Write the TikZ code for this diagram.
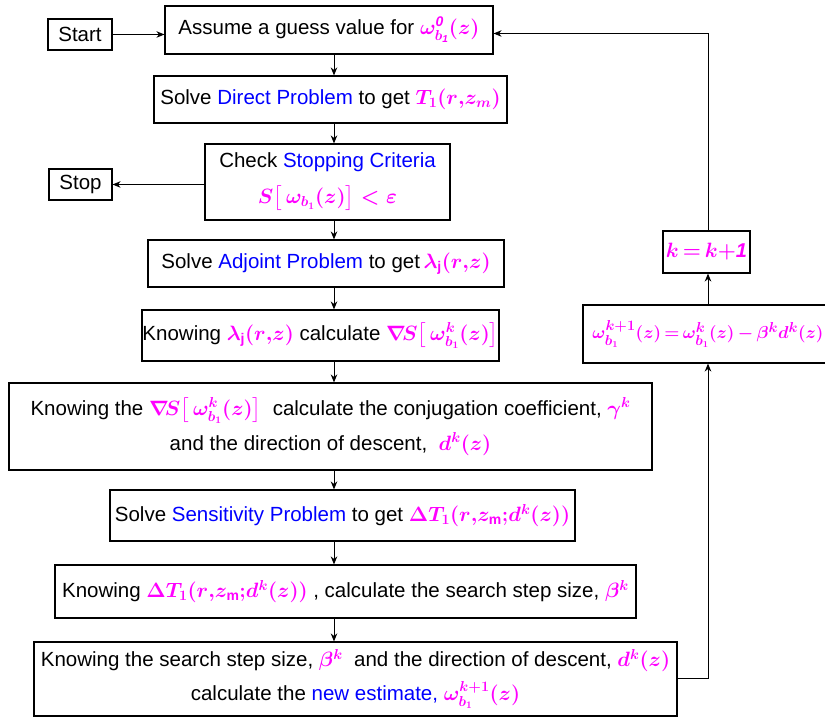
\documentclass[tikz,border=0pt]{standalone}
\usepackage{fontspec}
\setmainfont{Liberation Sans}
\usepackage{amsmath}
\usetikzlibrary{arrows.meta}
\definecolor{mag}{RGB}{255,0,255}
\definecolor{blu}{RGB}{0,0,255}
\newcommand{\mm}[1]{\textcolor{mag}{\fontsize{20}{24}\selectfont\boldmath$#1$}}
\newcommand{\mms}[1]{\textcolor{mag}{\fontsize{19}{24}\selectfont\boldmath$#1$}}
\newcommand{\bl}[1]{\textcolor{blu}{#1}}
\begin{document}
\begin{tikzpicture}[x=1pt,y=1pt,
  box/.style={draw, line width=1.1pt, inner sep=0pt, align=center, font=\fontsize{20.5}{24}\selectfont},
  arr/.style={-{Stealth[length=8pt,width=6.5pt,inset=2.5pt]}, line width=1pt}]
\useasboundingbox (0,0) rectangle (825,719);
\node[box, minimum width=64, minimum height=31] (start) at (80,684.5) {Start};
\node[box, minimum width=328, minimum height=48] (assume) at (329,689) {Assume a guess value for \mm{\omega^{\mathit{0}}_{b_{\mathit{1}}}(z)}};
\node[box, minimum width=353, minimum height=47] (direct) at (330.5,619.5) {Solve \bl{Direct Problem} to get \mm{T_1(r{,}z_m)}};
\node[box, minimum width=245, minimum height=76, font=\fontsize{20.5}{36}\selectfont] (check) at (327.5,537) {Check \bl{Stopping Criteria}\\\mm{S\big[\,\omega_{b_1}(z)\big] < \varepsilon}};
\node[box, minimum width=63, minimum height=31] (stop) at (80.5,534.5) {Stop};
\node[box, minimum width=356, minimum height=47] (adjoint) at (326,455.5) {Solve \bl{Adjoint Problem} to get\,\mm{\lambda_{\mathrm{j}}(r{,}z)}};
\node[box, minimum width=357, minimum height=51] (knowlam) at (320.5,383.5) {Knowing \mm{\lambda_{\mathrm{j}}(r{,}z)} calculate \mm{\nabla\! S\big[\,\omega^k_{b_1}(z)\big]}};
\node[box, minimum width=643, minimum height=87, font=\fontsize{20.5}{35}\selectfont] (conj) at (330.5,292.5) {Knowing the \mm{\nabla\! S\big[\,\omega^k_{b_1}(z)\big]}\ \ calculate the conjugation coefficient, \mm{\gamma^k}\\and the direction of descent, \ \mm{d^k(z)}};
\node[box, minimum width=465, minimum height=51] (sens) at (342.5,203.5) {Solve \bl{Sensitivity Problem} to get \mm{\Delta T_1(r{,}z_{\mathrm{m}}{;}d^k(z))}};
\node[box, minimum width=581, minimum height=53] (stepsize) at (345.5,127.5) {Knowing \mm{\Delta T_1(r{,}z_{\mathrm{m}}{;}d^k(z))} , calculate the search step size, \mm{\beta^k}};
\node[box, minimum width=643, minimum height=74, font=\fontsize{20.5}{34}\selectfont] (newest) at (355.5,40) {Knowing the search step size, \mm{\beta^k}\ \ and the direction of descent, \mm{d^k(z)}\\calculate the \bl{new estimate,} \mm{\omega^{k+1}_{b_1}(z)}};
\node[box, minimum width=244, minimum height=58] (omega) at (705,385) {\hspace{6pt}\mms{\omega^{k+1}_{b_1}(z)\,{=}\,\omega^k_{b_1}(z)\,{-}\,\beta^k d^k(z)}};
\node[box, minimum width=87, minimum height=42] (kbox) at (706.5,467) {\mm{k\,{=}\,k{+}\mathit{1}}};
\coordinate (col) at (334,0);
\coordinate (rc) at (708,0);
\coordinate (tr) at (708,685.5);
\draw[arr] (start.east) -- (start.east -| assume.west);
\draw[arr] (assume.south -| col) -- (direct.north -| col);
\draw[arr] (direct.south -| col) -- (check.north -| col);
\draw[arr] (check.south -| col) -- (adjoint.north -| col);
\draw[arr] (adjoint.south -| col) -- (knowlam.north -| col);
\draw[arr] (knowlam.south -| col) -- (conj.north -| col);
\draw[arr] (conj.south -| col) -- (sens.north -| col);
\draw[arr] (sens.south -| col) -- (stepsize.north -| col);
\draw[arr] (stepsize.south -| col) -- (newest.north -| col);
\draw[arr] (stop.east -| check.west) -- (stop.east);
\draw[arr] (newest.east) -| (omega.south -| rc);
\draw[arr] (omega.north -| rc) -- (kbox.south -| rc);
\draw[arr] (kbox.north -| rc) -- (tr) -- (tr -| assume.east);
\end{tikzpicture}
\end{document}
